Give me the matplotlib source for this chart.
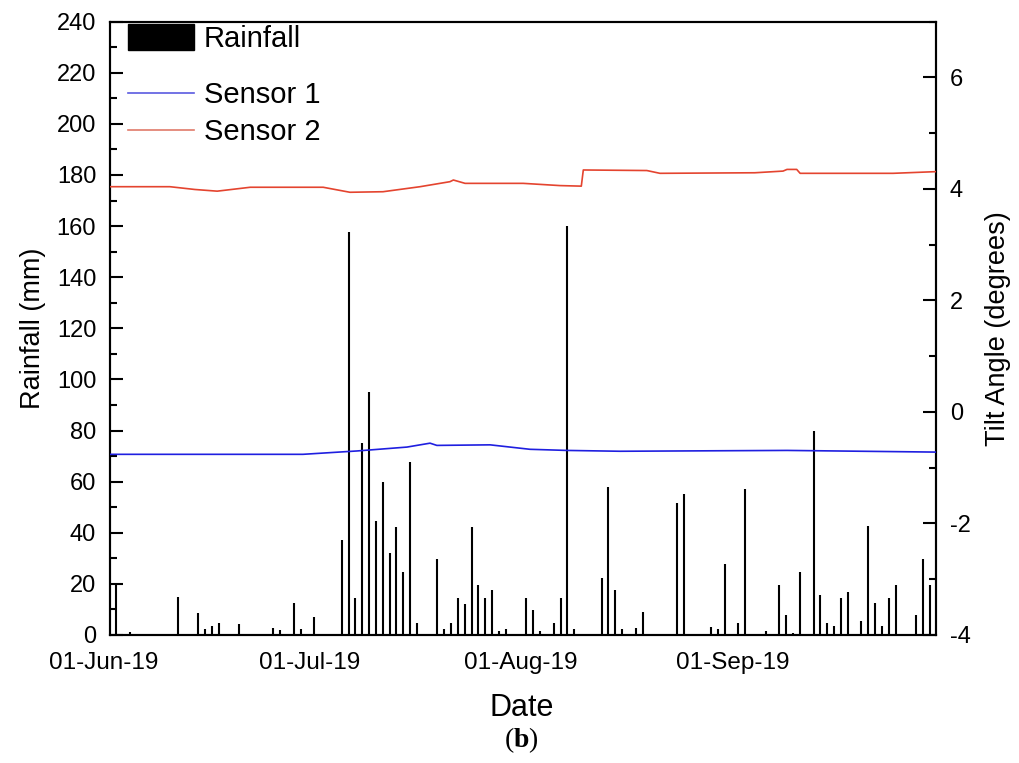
import numpy as np
import pandas as pd
import matplotlib
matplotlib.use("Agg")
import matplotlib.pyplot as plt
import matplotlib.dates as mdates
from matplotlib.patches import Patch
from matplotlib.lines import Line2D
from matplotlib.transforms import ScaledTranslation

plt.rcParams['font.family'] = ['Liberation Sans', 'DejaVu Sans']
plt.rcParams['axes.unicode_minus'] = False
plt.rcParams['mathtext.fontset'] = 'custom'
plt.rcParams['mathtext.rm'] = 'Liberation Serif'
plt.rcParams['mathtext.bf'] = 'Liberation Serif:bold'

# daily rainfall (mm)
rain_dates = [
    '2019-06-01', '2019-06-03', '2019-06-07', '2019-06-10', '2019-06-13', '2019-06-14',
    '2019-06-15', '2019-06-16', '2019-06-18', '2019-06-19', '2019-06-21', '2019-06-24',
    '2019-06-25', '2019-06-27', '2019-06-28', '2019-06-30', '2019-07-04', '2019-07-05',
    '2019-07-06', '2019-07-07', '2019-07-08', '2019-07-09', '2019-07-10', '2019-07-11',
    '2019-07-12', '2019-07-13', '2019-07-14', '2019-07-15', '2019-07-18', '2019-07-19',
    '2019-07-20', '2019-07-21', '2019-07-22', '2019-07-23', '2019-07-24', '2019-07-25',
    '2019-07-26', '2019-07-27', '2019-07-28', '2019-07-31', '2019-08-01', '2019-08-02',
    '2019-08-04', '2019-08-05', '2019-08-06', '2019-08-07', '2019-08-11', '2019-08-12',
    '2019-08-13', '2019-08-14', '2019-08-16', '2019-08-17', '2019-08-22', '2019-08-23',
    '2019-08-27', '2019-08-28', '2019-08-29', '2019-08-31', '2019-09-01', '2019-09-04',
    '2019-09-06', '2019-09-07', '2019-09-08', '2019-09-09', '2019-09-11', '2019-09-12',
    '2019-09-13', '2019-09-14', '2019-09-15', '2019-09-16', '2019-09-18', '2019-09-19',
    '2019-09-20', '2019-09-21', '2019-09-22', '2019-09-23', '2019-09-26', '2019-09-27',
    '2019-09-28',
]
rain_mm = [
    19.5, 1.0, 0.5, 15.0, 8.5, 2.2,
    3.5, 4.6, 0.4, 4.3, 0.3, 2.9,
    1.8, 12.7, 2.2, 7.2, 37.2, 157.5,
    14.6, 75.0, 95.0, 44.6, 60.0, 32.2,
    42.3, 24.7, 67.5, 4.6, 29.6, 2.2,
    4.6, 14.6, 12.1, 42.1, 19.6, 14.6,
    17.7, 1.6, 2.2, 14.6, 9.7, 1.6,
    4.6, 14.6, 160.0, 2.2, 22.4, 58.0,
    17.7, 2.2, 2.9, 9.1, 51.8, 55.0,
    3.1, 2.2, 27.7, 4.6, 57.0, 1.6,
    19.7, 7.7, 0.9, 24.8, 80.0, 15.7,
    4.6, 3.5, 14.6, 16.7, 5.6, 42.6,
    12.7, 3.5, 14.6, 19.7, 7.7, 29.8,
    19.7,
]
rain_hour = 21  # daily totals logged in the evening

# tilt readings (degrees)
s1_times = ['2019-06-01 00:00', '2019-06-29 05:00', '2019-07-07 02:00', '2019-07-14 10:00',
            '2019-07-17 19:00', '2019-07-18 19:00', '2019-07-26 14:00', '2019-08-01 10:00',
            '2019-08-06 19:00', '2019-08-14 14:00', '2019-09-08 00:00', '2019-09-29 18:00']
s1_tilt = [-0.76, -0.76, -0.70, -0.63, -0.56, -0.60, -0.59, -0.67, -0.69, -0.705, -0.69, -0.72]

s2_times = ['2019-06-01 00:00', '2019-06-09 18:00', '2019-06-13 10:00', '2019-06-16 16:00',
            '2019-06-21 12:00', '2019-07-02 04:00', '2019-07-06 02:00', '2019-07-10 22:00',
            '2019-07-16 08:00', '2019-07-20 17:00', '2019-07-21 05:00', '2019-07-22 22:00',
            '2019-07-31 10:00', '2019-08-05 19:00', '2019-08-08 22:00', '2019-08-09 05:00',
            '2019-08-18 12:00', '2019-08-20 10:00', '2019-09-03 07:00', '2019-09-07 10:00',
            '2019-09-08 00:00', '2019-09-09 10:00', '2019-09-09 22:00', '2019-09-23 12:00',
            '2019-09-29 18:00']
s2_tilt = [4.04, 4.04, 3.99, 3.96, 4.03, 4.03, 3.94, 3.95, 4.04, 4.13, 4.16, 4.10,
           4.10, 4.06, 4.05, 4.34, 4.33, 4.28, 4.29, 4.32, 4.35, 4.35, 4.28, 4.28, 4.31]

x_start = pd.Timestamp('2019-06-01')
x_end = pd.Timestamp('2019-09-29 18:00')

fig = plt.figure(figsize=(10.19, 7.63), dpi=100)
ax = fig.add_axes([0.108, 0.1678, 0.8103, 0.8038])
ax2 = ax.twinx()

# thin rainfall bars
rain_t = pd.to_datetime(rain_dates) + pd.Timedelta(hours=rain_hour)
ax.vlines(rain_t, 0, rain_mm, color='black', lw=1.5, zorder=2)

ax2.plot(pd.to_datetime(s1_times), s1_tilt, color='#1f1fe0', lw=1.2, zorder=3)
ax2.plot(pd.to_datetime(s2_times), s2_tilt, color='#e4442f', lw=1.2, zorder=3)

ax.set_xlim(x_start, x_end)
ax.set_ylim(0, 240)
ax2.set_ylim(-4, 7)

ax.set_yticks(np.arange(0, 241, 20))
ax.set_yticks(np.arange(0, 241, 10), minor=True)
ax2.set_yticks(np.arange(-4, 7, 2))
ax2.set_yticks(np.arange(-4, 8, 1), minor=True)

ax.xaxis.set_major_locator(mdates.MonthLocator())
ax.xaxis.set_major_formatter(mdates.DateFormatter('%d-%b-%y'))

ax.tick_params(axis='y', which='major', direction='in', length=9.5, width=1.5,
               labelsize=17, pad=10)
ax.tick_params(axis='y', which='minor', direction='in', length=5, width=1.5)
ax.tick_params(axis='x', which='both', length=0, labelsize=17.5, pad=12)
ax2.tick_params(axis='y', which='major', direction='in', length=9.5, width=1.5,
                labelsize=17, pad=10)
ax2.tick_params(axis='y', which='minor', direction='in', length=5, width=1.5)

# date labels sit a little left of their tick in the original
shift = ScaledTranslation(-6 / 100, 0, fig.dpi_scale_trans)
for t in ax.xaxis.get_major_ticks():
    t.label1.set_transform(t.label1.get_transform() + shift)

for a in (ax, ax2):
    for sp in a.spines.values():
        sp.set_linewidth(1.5)

ax.set_ylabel('Rainfall (mm)', fontsize=19.5)
ax.yaxis.set_label_coords(-0.078, 0.5)
ax2.set_ylabel('Tilt Angle (degrees)', fontsize=19.5)
ax2.yaxis.set_label_coords(1.06, 0.5)
ax.set_xlabel('Date', fontsize=22)
ax.xaxis.set_label_coords(0.499, -0.094)

leg1 = ax2.legend(handles=[Patch(facecolor='black', edgecolor='black', label='Rainfall')],
                  loc='upper left', bbox_to_anchor=(0.0218, 0.9963), frameon=False,
                  fontsize=21, borderpad=0, borderaxespad=0, handlelength=2.26,
                  handleheight=1.0, handletextpad=0.34)
ax2.add_artist(leg1)
ax2.legend(handles=[Line2D([], [], color='#5a5ae0', lw=1.2, label='Sensor 1'),
                    Line2D([], [], color='#e07a6a', lw=1.2, label='Sensor 2')],
           loc='upper left', bbox_to_anchor=(0.0218, 0.9025), frameon=False,
           fontsize=21, borderpad=0, borderaxespad=0, handlelength=2.26,
           handletextpad=0.34, labelspacing=0.295)

fig.text(0.512, 0.03, r'$(\mathbf{b})$', ha='center', va='center', fontsize=20)

fig.savefig('out.png', dpi=100)
